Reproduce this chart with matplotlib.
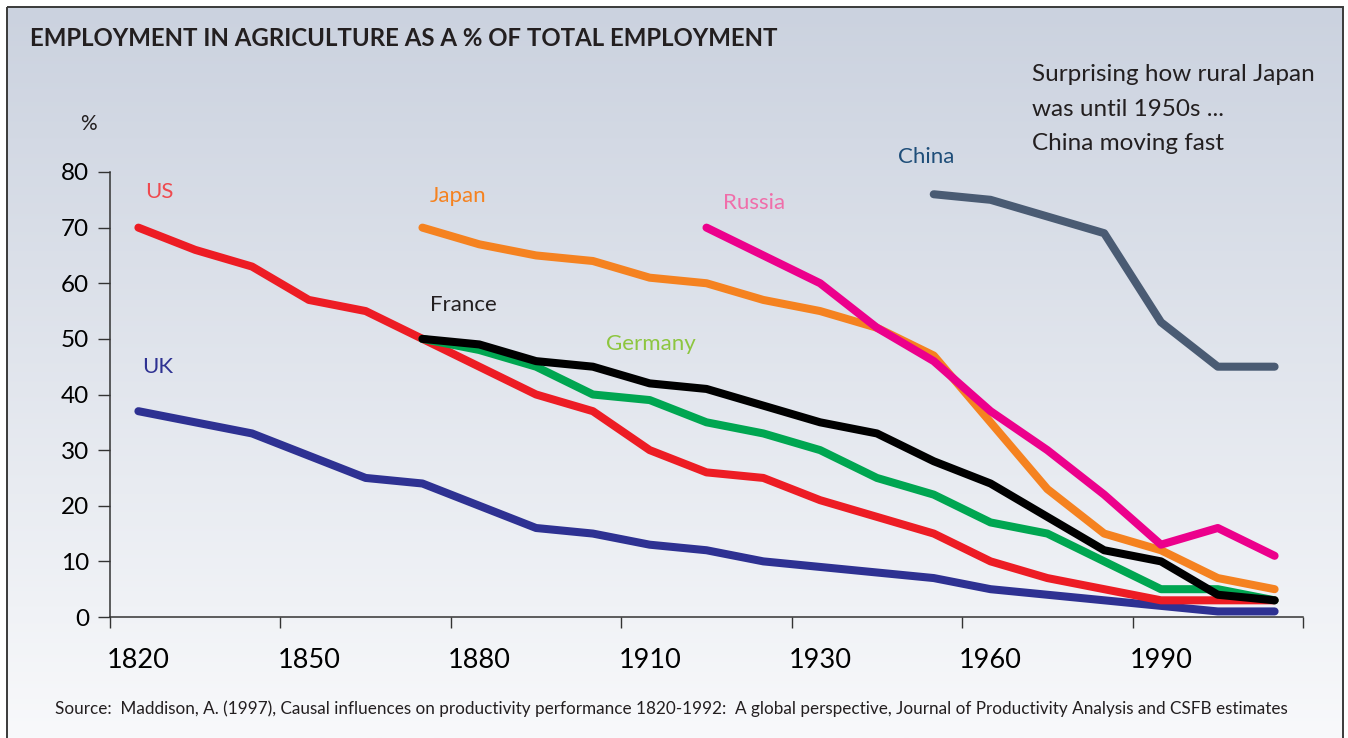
# Employment in agriculture as a % of total employment
import numpy as np
import matplotlib.pyplot as plt
from matplotlib.patches import Rectangle

plt.rcParams['font.family'] = ['Lato', 'DejaVu Sans']

# one category every decade-ish, labelled every third one
tick_labels = ['1820', '1850', '1880', '1910', '1930', '1960', '1990']

us = [70, 66, 63, 57, 55, 50, 45, 40, 37, 30, 26, 25, 21, 18, 15, 10, 7, 5, 3, 3, 3]
uk = [37, 35, 33, 29, 25, 24, 20, 16, 15, 13, 12, 10, 9, 8, 7, 5, 4, 3, 2, 1, 1]
japan = [70, 67, 65, 64, 61, 60, 57, 55, 52, 47, 35, 23, 15, 12, 7, 5]        # from idx 5
france = [50, 49, 46, 45, 42, 41, 38, 35, 33, 28, 24, 18, 12, 10, 4, 3]       # from idx 5
germany = [50, 48, 45, 40, 39, 35, 33, 30, 25, 22, 17, 15, 10, 5, 5, 3]       # from idx 5
russia = [70, 65, 60, 52, 46, 37, 30, 22, 13, 16, 11]                         # from idx 10
china = [76, 75, 72, 69, 53, 45, 45]                                          # from idx 14

series = [
    # name, values, start index, line colour, label colour, label pos
    ('UK', uk, 0, '#2E3192', '#2E3192', (0.06, 44.9)),
    ('US', us, 0, '#ED1C24', '#EF4A4F', (0.12, 76.4)),
    ('Germany', germany, 5, '#00A651', '#8DC63F', (8.23, 49.1)),
    ('France', france, 5, '#000000', '#231F20', (5.13, 56.1)),
    ('Japan', japan, 5, '#F58220', '#F58220', (5.13, 75.7)),
    ('Russia', russia, 10, '#EC008C', '#F06EAA', (10.29, 74.4)),
    ('China', china, 14, '#4A5B73', '#1F4E79', (13.37, 82.7)),
]

W, H = 1348, 738
fig = plt.figure(figsize=(W / 100, H / 100), dpi=100)

# gradient background inside the frame
bg = fig.add_axes([0, 0, 1, 1])
bg.set_xlim(0, W)
bg.set_ylim(H, 0)
bg.axis('off')
top = np.array([0xCB, 0xD2, 0xDF]) / 255
bot = np.array([0xF8, 0xF9, 0xFB]) / 255
t = np.linspace(0, 1, 256)[:, None]
grad = (top[None, :] * (1 - t) + bot[None, :] * t)[:, None, :]
bg.imshow(grad, extent=[7, 1343, H, 7], aspect='auto', zorder=0)
bg.add_patch(Rectangle((7, 7), 1336, 760, fill=False, ec='#3A3A3A', lw=1.4, zorder=1))

ax = fig.add_axes([110 / W, 1 - 617 / H, (1303 - 110) / W, (617 - 172) / H])
ax.patch.set_alpha(0)

for name, vals, start, col, lcol, (lx, ly) in series:
    xs = np.arange(start, start + len(vals))
    ax.plot(xs, vals, color=col, lw=5.8, solid_capstyle='round',
            solid_joinstyle='round', zorder=3)
    ax.text(lx, ly, name, color=lcol, fontsize=16, va='center', ha='left',
            clip_on=False)

ax.set_xlim(-0.5, 20.5)
ax.set_ylim(0, 80)
ax.set_yticks(range(0, 81, 10))
ax.set_xticks(np.arange(-0.5, 21, 3))
ax.set_xticklabels([])
ax.set_xticks(np.arange(0, 19, 3), minor=True)
ax.set_xticklabels(tick_labels, minor=True)
ax.tick_params(axis='x', which='minor', length=0, pad=22, labelsize=19.5)
ax.tick_params(axis='x', which='major', length=8, width=1, color='#333333', direction='out')
ax.tick_params(axis='y', length=9, width=1, color='#333333', labelsize=17.5, pad=6)
for s in ['top', 'right']:
    ax.spines[s].set_visible(False)
for s in ['left', 'bottom']:
    ax.spines[s].set_color('#333333')
    ax.spines[s].set_linewidth(1.1)

fig.text(30 / W, 1 - 38 / H, 'EMPLOYMENT IN AGRICULTURE AS A % OF TOTAL EMPLOYMENT',
         fontsize=17.3, fontweight='bold', color='#231F20', va='center')
fig.text(88 / W, 1 - 124 / H, '%', fontsize=15, color='#231F20', va='center', ha='center')
fig.text(1032 / W, 1 - 109 / H, 'Surprising how rural Japan\nwas until 1950s ...\nChina moving fast',
         fontsize=17.5, color='#231F20', va='center', ha='left', linespacing=1.78)
fig.text(55 / W, 1 - 709 / H,
         'Source:  Maddison, A. (1997), Causal influences on productivity performance 1820-1992:  '
         'A global perspective, Journal of Productivity Analysis and CSFB estimates',
         fontsize=12.3, color='#231F20', va='center', ha='left')

fig.savefig('out.png', dpi=100)
